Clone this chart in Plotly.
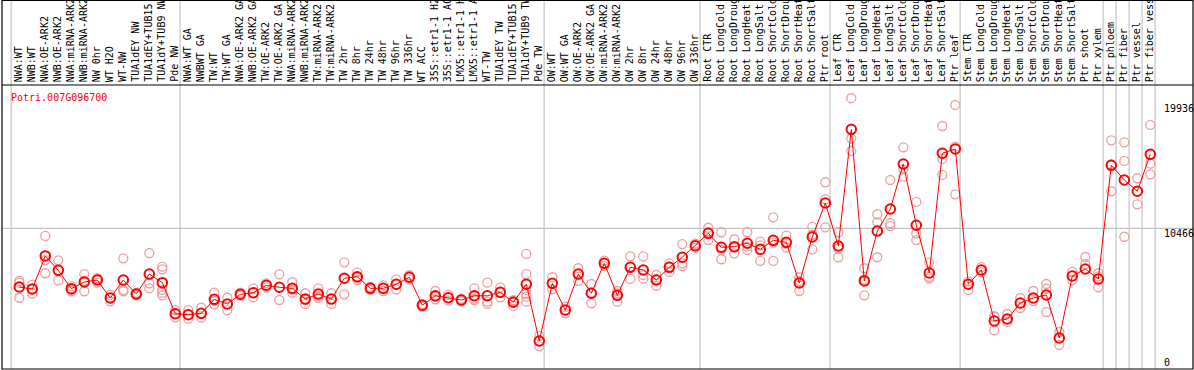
import plotly.graph_objects as go

# ---------------- data ----------------
gene_id = "Potri.007G096700"

samples = [
    "NWA:WT", "NWB:WT", "NWA:OE-ARK2", "NWB:OE-ARK2", "NWA:miRNA-ARK2", "NWB:miRNA-ARK2",
    "NW 0hr", "WT H2O", "WT-NW", "TUA1dEY NW", "TUA1dEY+TUB15 NW", "TUA1dY+TUB9 NW", "Pde NW",
    "NWA:WT GA", "NWBWT GA", "TW:WT", "TW:WT GA", "NWA:OE-ARK2 GA", "NWB:OE-ARK2 GA",
    "TW:OE-ARK2", "TW:OE-ARK2 GA", "NWA:miRNA-ARK2", "NWB:miRNA-ARK2", "TW:miRNA-ARK2",
    "TW:miRNA-ARK2", "TW 2hr", "TW 8hr", "TW 24hr", "TW 48hr", "TW 96hr", "TW 336hr",
    "WT ACC", "35S::etr1-1 H2O", "35S::etr1-1 ACC", "LMX5::etr1-1 H2O", "LMX5::etr1-1 ACC",
    "WT-TW", "TUA1dEY TW", "TUA1dEY+TUB15 TW", "TUA1dY+TUB9 TW", "Pde TW",
    "OW:WT", "OW:WT GA", "OW:OE-ARK2", "OW:OE-ARK2 GA", "OW:miRNA-ARK2", "OW:miRNA-ARK2",
    "OW 2hr", "OW 8hr", "OW 24hr", "OW 48hr", "OW 96hr", "OW 336hr",
    "Root CTR", "Root LongCold", "Root LongDrought", "Root LongHeat", "Root LongSalt",
    "Root ShortCold", "Root ShortDrought", "Root ShortHeat", "Root ShortSalt", "Ptr root",
    "Leaf CTR", "Leaf LongCold", "Leaf LongDrought", "Leaf LongHeat", "Leaf LongSalt",
    "Leaf ShortCold", "Leaf ShortDrought", "Leaf ShortHeat", "Leaf ShortSalt", "Ptr leaf",
    "Stem CTR", "Stem LongCold", "Stem LongDrought", "Stem LongHeat", "Stem LongSalt",
    "Stem ShortCold", "Stem ShortDrought", "Stem ShortHeat", "Stem ShortSalt", "Ptr shoot",
    "Ptr xylem", "Ptr phloem", "Ptr fiber", "Ptr vessel", "Ptr fiber vessel",
]

means = [
    6030, 5880, 8380, 7290, 5905, 6410, 6560, 5200, 6560, 5500, 7010, 6360, 4010,
    3940, 4040, 5100, 4750, 5480, 5600, 6160, 6010, 5930, 5120, 5500, 5120, 6690, 6810,
    5930, 5930, 6240, 6770, 4650, 5370, 5220, 5050, 5370, 5370, 5630, 4880, 6240, 1950,
    6310, 4290, 7010, 5560, 7820, 5400, 7520, 7320, 6560, 7520, 8280, 9150,
    10090, 9030, 9080, 9340, 8880, 9560, 9410, 6330, 9810, 12380,
    9130, 17950, 6490, 10260, 11930, 15330, 10700, 7090, 16140, 16460,
    6240, 7320, 3460, 3610, 4820, 5200, 5430, 2180, 6860, 7390, 6640,
    15230, 14120, 13270, 16060,
]

replicates = [
    [6490, 6360, 5220], [6210, 5530, 5880], [9890, 8070, 7070], [8050, 6540],
    [6100, 5810, 5710], [7010, 5710, 6500], [6710, 6360, 6610], [5430, 4950, 5220],
    [8200, 5810, 5710], [5600, 5400, 5500], [8600, 6310, 5930],
    [7570, 7370, 5810, 5600, 5400], [4290, 3740],
    [4290, 3640], [4470, 3710], [5600, 4720, 4980], [5220, 4290], [5600, 5360],
    [5930, 5250], [6310, 6000], [6990, 5050], [6390, 5600, 5810], [5560, 4750, 5060],
    [5930, 5220, 5360], [5560, 4750], [7900, 5480], [7140, 6560, 6730], [6050, 5810],
    [6150, 5730], [6610, 5860], [6920, 6610], [4750, 4550], [5730, 5100, 5290],
    [5430, 5000], [5150, 4950], [5930, 5050, 5150], [6360, 4920, 4750], [6010, 5250],
    [5000, 4600, 5030], [8530, 7010, 5810, 5500, 5300, 4920], [2330, 1570],
    [6770, 5860], [4540, 4040], [7450, 6490], [6260, 4800, 5600], [8030, 7620],
    [5730, 4920, 5550], [8350, 6640, 7570], [8350, 6940, 6660], [6940, 6110, 6630],
    [7820, 7170, 7570], [9280, 7820, 7620], [9300, 9000],
    [10510, 9580, 10180], [10170, 8830, 8130], [9640, 8580, 9020], [10170, 9080, 8830],
    [9460, 8000, 9180], [11300, 8000, 9400], [9910, 9000, 9320], [6770, 5730, 6500],
    [10570, 8880, 9980], [13950, 10540, 12650],
    [10170, 8280, 8950], [20300, 17270, 16310], [7450, 5400, 6600], [11530, 10920, 8280],
    [14120, 10850, 10640], [16590, 14930, 14370], [12460, 10090, 9580], [7870, 6660, 6800],
    [18200, 15710, 14500], [19790, 16640, 13040],
    [6460, 5810], [7540, 7160], [3820, 2760, 3800], [3990, 3390], [5200, 4440],
    [5730, 4970], [6260, 4140, 5900], [2630, 1650], [7170, 6560], [7770, 8300],
    [7070, 6010, 6840],
    [17120, 13270, 15300], [16970, 15560, 9830], [14250, 12280], [18280, 15350, 14550],
]

group_starts = [0, 13, 41, 53, 63, 73, 84, 85, 86, 87, 88]
axis_tick_values = [19936, 10466, 0]
grid_values = [10466]

# ---------------- layout geometry ----------------
W, H = 1194, 370
ML, MR, MT, MB = 2, 1, 85, 1
PLOT_H = H - MT - MB
Y_ZERO_PX = 366.8
PX_PER_UNIT = 0.01323
X_FIRST_PX = 19.3
X_STEP = 13.0

y_lo = (Y_ZERO_PX - (H - MB)) / PX_PER_UNIT
y_hi = (Y_ZERO_PX - MT) / PX_PER_UNIT
x_lo = (ML - X_FIRST_PX) / X_STEP
x_hi = (W - MR - X_FIRST_PX) / X_STEP


def paper_y(px):
    return (H - MB - px) / PLOT_H


FONT = "DejaVu Sans Mono"
RED = "#ff0000"
PINK = "#eba0a0"
GRID = "#c4c4c4"

xs = list(range(len(samples)))
rep_x, rep_y = [], []
for i, reps in enumerate(replicates):
    for v in reps:
        rep_x.append(i)
        rep_y.append(v)

fig = go.Figure()
fig.add_trace(go.Scatter(
    x=rep_x, y=rep_y, mode="markers",
    marker=dict(symbol="circle-open", size=9, color=PINK, line=dict(width=1.3, color=PINK)),
    hoverinfo="skip", showlegend=False, cliponaxis=False,
))
fig.add_trace(go.Scatter(
    x=xs, y=means, mode="lines+markers",
    line=dict(color=RED, width=1),
    marker=dict(symbol="circle-open", size=9.5, color=RED, line=dict(width=2, color=RED)),
    text=samples, showlegend=False, cliponaxis=False,
))

shapes = []
for j in group_starts:
    shapes.append(dict(type="line", xref="x", yref="paper", x0=j - 0.63, x1=j - 0.63,
                       y0=0, y1=paper_y(0), line=dict(color=GRID, width=1.2), layer="below"))
for g in grid_values:
    shapes.append(dict(type="line", xref="paper", yref="y", x0=0, x1=1, y0=g, y1=g,
                       line=dict(color=GRID, width=1.2), layer="below"))
shapes.append(dict(type="rect", xref="paper", yref="paper", x0=0, x1=1, y0=0, y1=paper_y(0.5),
                   line=dict(color="black", width=1.2)))
shapes.append(dict(type="line", xref="paper", yref="paper", x0=0, x1=1, y0=1, y1=1,
                   line=dict(color="black", width=1.2)))

annotations = []
for i, s in enumerate(samples):
    annotations.append(dict(x=i, y=1, xref="x", yref="paper", text=s, showarrow=False,
                            textangle=-90, xanchor="center", yanchor="bottom", yshift=1,
                            xshift=-1, font=dict(family=FONT, size=10, color="black")))

label_x = (1162 - ML) / (W - ML - MR)
for v in axis_tick_values:
    annotations.append(dict(x=label_x, y=v, xref="paper", yref="y", text=str(v),
                            showarrow=False, xanchor="left",
                            yanchor="bottom" if v == 0 else "top",
                            yshift=-3 if v == 0 else 2.5,
                            font=dict(family=FONT, size=10, color="black")))

annotations.append(dict(x=(9 - ML) / (W - ML - MR), y=paper_y(90), xref="paper", yref="paper",
                        text=gene_id, showarrow=False, xanchor="left", yanchor="top",
                        font=dict(family=FONT, size=10, color=RED)))

fig.update_layout(
    width=W, height=H,
    margin=dict(l=ML, r=MR, t=MT, b=MB, pad=0),
    paper_bgcolor="white", plot_bgcolor="white",
    xaxis=dict(range=[x_lo, x_hi], showgrid=False, zeroline=False, showticklabels=False,
               ticks="", showline=False, fixedrange=True),
    yaxis=dict(range=[y_lo, y_hi], showgrid=False, zeroline=False, showticklabels=False,
               ticks="", showline=False, fixedrange=True),
    shapes=shapes, annotations=annotations, showlegend=False,
)

fig.write_html(
    "out.html",
    config={"displayModeBar": False},
    post_script="document.body.style.margin='0';document.body.style.overflow='hidden';",
)
